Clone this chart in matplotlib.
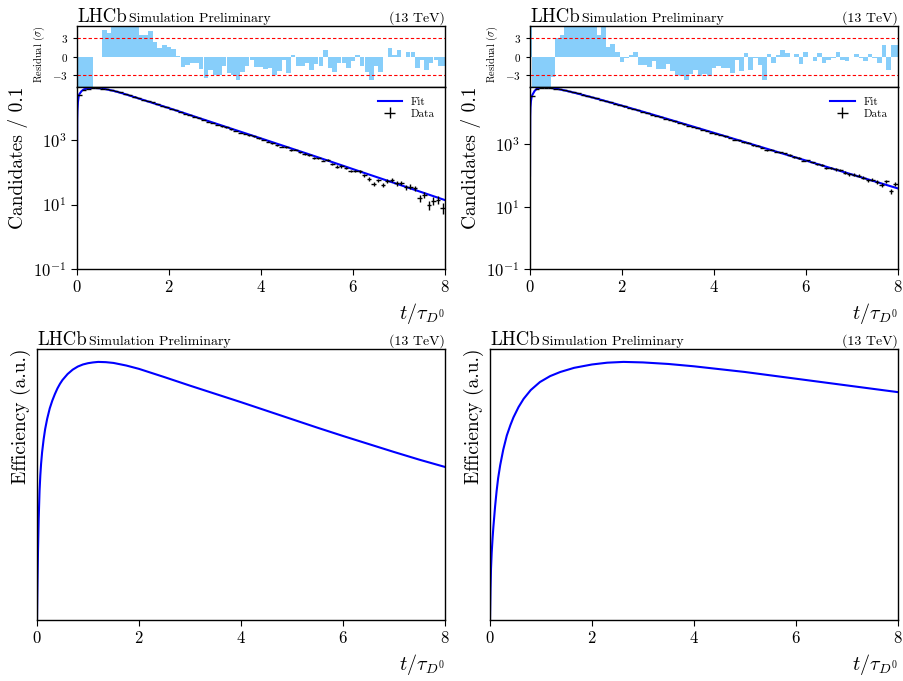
import numpy as np
import matplotlib
matplotlib.use('Agg')
from matplotlib import pyplot as plt
from matplotlib.ticker import NullLocator

# data
# bin centres of the decay time histograms (80 bins of 0.1)
bin_centres = np.arange(80) * 0.1 + 0.05
# residual bars are drawn every 0.1 from 0 to 8
res_centres = np.arange(81) * 0.1

left_counts = [24500, 36000, 39070, 39990, 40740, 39360, 38000, 35400, 33060, 30200,
               27270, 24630, 22260, 20110, 17860, 16120, 14620, 13000, 11630, 10420,
               9380, 8388, 7434, 6529, 5876, 5297, 4743, 4193, 3664, 3353,
               2958, 2646, 2443, 2131, 1893, 1653, 1528, 1409, 1297, 1118,
               1004, 886, 798, 683, 627, 605, 490, 501, 412, 368,
               337, 282, 267, 231, 245, 179, 150, 152, 135, 110,
               110, 108, 80, 61, 43, 56, 41, 54, 59, 45,
               46, 34, 36, 32, 16, 20, 10, 13, 14, 8]

right_counts = [36300, 60170, 64530, 66050, 63780, 61810, 59340, 55400, 51820, 47750,
                43900, 40170, 36690, 33590, 30480, 27570, 25490, 22560, 20610, 18560,
                16630, 15150, 13780, 12550, 11150, 10090, 9095, 8340, 7446, 6736,
                6157, 5482, 4924, 4438, 3970, 3645, 3329, 2962, 2695, 2413,
                2242, 2035, 1814, 1631, 1436, 1371, 1172, 1152, 949, 912,
                788, 642, 683, 582, 554, 515, 456, 401, 369, 304,
                308, 265, 229, 224, 181, 170, 157, 155, 125, 110,
                107, 100, 85, 72, 74, 63, 50, 66, 32, 55]

left_residuals = [-6, -6, -6, -6, 0.0, 0.0, 4.4, 3.9, 6, 6,
                  6, 6, 6, 6, 3.6, 3.6, 4.1, 2.3, 1.4, 1.85,
                  1.6, 1.2, 0.05, -1.7, -1.4, -1.0, -1.1, -2.0, -3.5, -2.2,
                  -3.0, -3.0, -1.5, -2.7, -3.0, -3.9, -2.6, -1.5, -0.5, -1.8,
                  -1.7, -2.1, -1.9, -3.0, -2.3, -0.5, -2.7, 0.2, -1.6, -1.6,
                  -1.1, -2.2, -1.2, -1.6, 1.0, -1.9, -2.6, -1.0, -1.1, -1.9,
                  -0.8, 0.2, -1.5, -2.6, -3.8, -1.5, -2.6, -0.1, 1.4, 0.2,
                  1.1, -0.1, 0.8, 0.8, -1.9, -0.6, -2.2, -1.1, -0.6, -1.6,
                  -1.6]

right_residuals = [6, -6, -6, -6, -6, -3.4, 3.0, 3.5, 6, 6,
                   6, 6, 6, 6, 4.8, 3.6, 6, 1.5, 2.0, 0.8,
                   -0.9, -0.2, 0.3, 0.7, -1.4, -1.4, -1.8, -0.8, -2.0, -2.0,
                   -1.2, -2.4, -3.0, -3.2, -3.8, -2.8, -2.2, -3.2, -2.8, -3.2,
                   -1.9, -1.5, -1.9, -1.9, -2.7, -0.5, -2.3, 0.65, -2.2, -0.2,
                   -1.4, -3.8, 0.4, -1.0, 0.3, 1.0, 0.5, 0.0, 0.4, -1.2,
                   0.8, 0.0, -0.7, 0.5, -1.1, -0.5, -0.2, 0.8, -0.5, -0.7,
                   0.0, 0.4, -0.2, -0.7, 0.4, -0.2, -1.1, 1.9, -2.2, 1.9,
                   1.9]

# fit curves sampled along t
fit_t = [0, 0.005, 0.01, 0.02, 0.035, 0.05, 0.1, 0.15, 0.2, 0.3, 0.4, 0.5, 0.6, 0.8, 1.0,
         1.25, 1.5, 2.0, 2.5, 3.0, 3.5, 4.0, 4.5, 5.0, 5.5, 6.0, 6.5, 7.0, 7.5, 8.0]
fit_left = [3.3, 4000, 8000, 15000, 22000, 26300, 33000, 37150, 39000, 41000, 41000, 40000,
            38300, 33300, 27700, 21380, 16400, 9750, 5670, 3300, 1920, 1120, 650, 378, 218,
            125, 72, 41.5, 23.9, 13.7]
fit_right = [100, 7900, 15600, 24500, 33000, 38700, 52300, 62000, 65600, 68000, 66500, 63800,
             60600, 52500, 44400, 35600, 28300, 17600, 10780, 6530, 3937, 2364, 1419, 851, 509,
             305, 182, 109, 65.1, 38.9]

# efficiency curves (arbitrary units, peak = 1)
eff_t_left = [0, 0.005, 0.01, 0.02, 0.033, 0.05, 0.065, 0.08, 0.1, 0.13, 0.16, 0.2, 0.25,
              0.3, 0.35, 0.4, 0.45, 0.5, 0.6, 0.7, 0.8, 0.9, 1.0, 1.1, 1.2, 1.35, 1.5, 1.75,
              2.0, 2.5, 3.0, 3.5, 4.0, 4.5, 5.0, 5.5, 6.0, 6.5, 7.0, 7.5, 8.0]
eff_left = [0, 0.08, 0.15, 0.27, 0.39, 0.50, 0.56, 0.605, 0.65, 0.70, 0.74, 0.78, 0.82,
            0.85, 0.875, 0.897, 0.915, 0.93, 0.953, 0.970, 0.982, 0.990, 0.995, 0.998, 1.0,
            0.999, 0.996, 0.986, 0.973, 0.941, 0.908, 0.876, 0.844, 0.811, 0.778, 0.745,
            0.713, 0.682, 0.651, 0.621, 0.593]
eff_t_right = [0, 0.005, 0.01, 0.02, 0.033, 0.05, 0.066, 0.1, 0.13, 0.16, 0.2, 0.26, 0.33,
               0.4, 0.46, 0.56, 0.66, 0.8, 0.98, 1.18, 1.38, 1.65, 2.0, 2.3, 2.62, 3.0, 3.5,
               4.0, 4.5, 5.0, 5.5, 6.0, 6.5, 7.0, 7.5, 8.0]
eff_right = [0, 0.06, 0.12, 0.20, 0.26, 0.315, 0.36, 0.44, 0.50, 0.55, 0.60, 0.66, 0.715,
             0.755, 0.785, 0.825, 0.857, 0.891, 0.922, 0.945, 0.961, 0.977, 0.99, 0.997, 1.0,
             0.998, 0.992, 0.983, 0.972, 0.961, 0.948, 0.935, 0.922, 0.909, 0.896, 0.883]

plt.rcParams['font.family'] = 'serif'
plt.rcParams['font.serif'] = ['cmr10']
plt.rcParams['mathtext.fontset'] = 'cm'
plt.rcParams['axes.formatter.use_mathtext'] = True
plt.rcParams['axes.linewidth'] = 1.0

W, H = 904, 681
fig = plt.figure(figsize=(W / 100, H / 100), dpi=100)


def box(x0, y0, x1, y1):
    # pixel box (from top left) -> figure fraction rect
    return [x0 / W, 1 - y1 / H, (x1 - x0) / W, (y1 - y0) / H]


def lhcb_label(ax):
    t = ax.annotate('LHCb', xy=(0, 1), xycoords='axes fraction', xytext=(0, 3),
                    textcoords='offset points', fontsize=13.5, va='baseline', ha='left')
    ax.annotate('Simulation Preliminary', xy=(1, 0), xycoords=t, xytext=(1.5, 0.9),
                textcoords='offset points', fontsize=10, va='bottom', ha='left')
    ax.annotate('(13 TeV)', xy=(1, 1), xycoords='axes fraction', xytext=(0, 3),
                textcoords='offset points', fontsize=10, va='baseline', ha='right')


def fit_panel(x0, x1, counts, residuals, fit, ytop):
    res_ax = fig.add_axes(box(x0, 26, x1, 87))
    ax = fig.add_axes(box(x0, 87, x1, 269))

    # residual panel
    res_ax.bar(res_centres, residuals, width=0.1, color='lightskyblue', linewidth=0)
    res_ax.axhline(3, color='red', ls='--', lw=0.8, dashes=(3, 2))
    res_ax.axhline(-3, color='red', ls='--', lw=0.8, dashes=(3, 2))
    res_ax.set_xlim(0, 8)
    res_ax.set_ylim(-5, 5)
    res_ax.set_xticks([])
    res_ax.set_yticks([-3, 0, 3])
    res_ax.tick_params(axis='y', labelsize=8, length=3, direction='out')
    res_ax.set_ylabel(r'Residual ($\sigma$)', fontsize=7.5, loc='top')
    lhcb_label(res_ax)

    # main panel
    fit_line, = ax.plot(fit_t, fit, color='blue', lw=1.5, label='Fit')
    counts = np.array(counts, dtype=float)
    data = ax.errorbar(bin_centres, counts, xerr=0.05, yerr=np.sqrt(counts), fmt='none',
                       ecolor='black', elinewidth=1.0, label='Data')
    ax.set_yscale('log')
    ax.set_xlim(0, 8)
    ax.set_ylim(0.1, ytop)
    ax.set_yticks([0.1, 10, 1000])
    ax.yaxis.set_minor_locator(NullLocator())
    ax.set_xticks([0, 2, 4, 6, 8])
    ax.tick_params(labelsize=12, length=4, direction='out')
    ax.set_ylabel('Candidates / 0.1', fontsize=14, loc='top')
    ax.set_xlabel(r'$t/\tau_{D^0}$', fontsize=14.5, loc='right')
    ax.legend(handles=[fit_line, data], loc='upper right', fontsize=8, frameon=False,
              handlelength=2.2, borderaxespad=0.5, labelspacing=0.2)


def eff_panel(x0, x1, t, eff):
    ax = fig.add_axes(box(x0, 349, x1, 620))
    ax.plot(t, eff, color='blue', lw=1.5)
    ax.set_xlim(0, 8)
    ax.set_ylim(0, 1.05)
    ax.set_yticks([])
    ax.set_xticks([0, 2, 4, 6, 8])
    ax.tick_params(labelsize=12, length=4, direction='out')
    ax.set_ylabel('Efficiency (a.u.)', fontsize=14, loc='top')
    ax.set_xlabel(r'$t/\tau_{D^0}$', fontsize=14.5, loc='right')
    lhcb_label(ax)


fit_panel(77, 445, left_counts, left_residuals, fit_left, 4.4e4)
fit_panel(530, 897.7, right_counts, right_residuals, fit_right, 7.0e4)
eff_panel(37, 445, eff_t_left, eff_left)
eff_panel(490, 897.7, eff_t_right, eff_right)

fig.savefig('out.png', dpi=100)
